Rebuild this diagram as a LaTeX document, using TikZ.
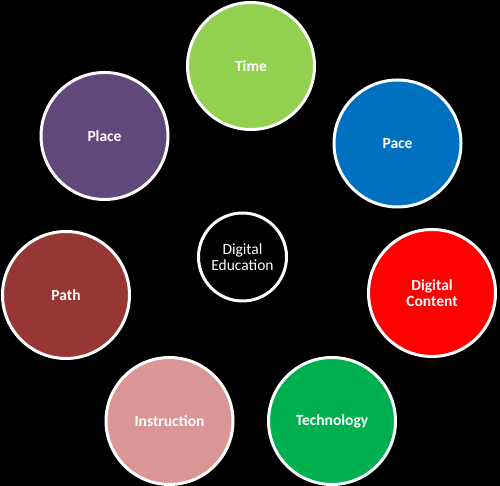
\documentclass[tikz,border=0pt]{standalone}
\usepackage{fontspec}
\setmainfont{Carlito}
\usetikzlibrary{positioning}
\definecolor{TimeGreen}{RGB}{146, 208, 80}
\definecolor{PaceBlue}{RGB}{0, 112, 192}
\definecolor{ContentRed}{RGB}{255, 0, 0}
\definecolor{TechGreen}{RGB}{0, 176, 80}
\definecolor{InstrPink}{RGB}{217, 150, 148}
\definecolor{PathRed}{RGB}{150, 55, 53}
\definecolor{PlacePurple}{RGB}{96, 73, 122}
\begin{document}
\begin{tikzpicture}[x=1pt, y=1pt,
            facet/.style={circle, draw=white, line width=3pt, minimum size=127pt,
                          inner sep=0pt, align=center, text=white,
                          font=\fontsize{15.5}{16.5}\selectfont\bfseries},
            hub/.style={circle, draw=white, line width=3pt, minimum size=88pt,
                        inner sep=0pt, align=center, text=white, fill=black,
                        font=\fontsize{15.5}{16.5}\selectfont}
        ]
            % black page, 500 x 486
            \fill[black] (0, 0) rectangle (500, 486);
            \useasboundingbox (0, 0) rectangle (500, 486);

            \node[hub] (edu) at (242.5, 229) {Digital\\Education};

            \node[facet, fill=TimeGreen] (time) at (251, 420) {Time};
            \node[facet, fill=PaceBlue] (pace) at (397.5, 342.5) {Pace};
            \node[facet, fill=ContentRed] (content) at (432, 193)
                {Digital\\Content};
            \node[facet, fill=TechGreen] (tech) at (332, 65) {Technology};
            \node[facet, fill=InstrPink] (instr) at (169.5, 65) {Instruction};
            \node[facet, fill=PathRed] (path) at (66, 191) {Path};
            \node[facet, fill=PlacePurple] (place) at (104.5, 350) {Place};
        \end{tikzpicture}
\end{document}
